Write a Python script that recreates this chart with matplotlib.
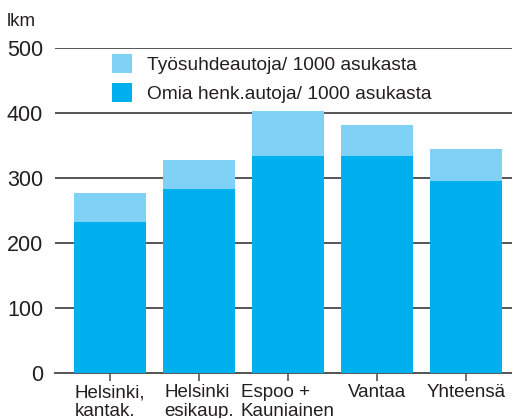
import matplotlib.pyplot as plt
import numpy as np

plt.rcParams['font.family'] = ['Liberation Sans', 'DejaVu Sans']

categories = ['Helsinki,\nkantak.', 'Helsinki\nesikaup.', 'Espoo +\nKauniainen', 'Vantaa', 'Yhteensä']
omia = [233, 283, 333, 333, 296]
tyosuhde = [44, 45, 70, 49, 49]

dark = '#00B0EE'
light = '#7FD2F5'
txt = '#231F20'

fig = plt.figure(figsize=(5.12, 4.18), dpi=100)
ax = fig.add_axes([55 / 512, 44.7 / 418, 457 / 512, 325.6 / 418])

x = np.arange(len(categories))
ax.bar(x, omia, width=0.81, color=dark, label='Omia henk.autoja/ 1000 asukasta', zorder=3)
ax.bar(x, tyosuhde, width=0.81, bottom=omia, color=light,
       label='Työsuhdeautoja/ 1000 asukasta', zorder=3)

ax.set_ylim(0, 500)
ax.set_xlim(-0.62, 4.52)
ax.set_yticks([0, 100, 200, 300, 400, 500])
ax.yaxis.grid(True, color='#555555', linewidth=1.4, zorder=1)
ax.set_axisbelow(True)
for s in ['left', 'right', 'top']:
    ax.spines[s].set_visible(False)
ax.spines['bottom'].set_color('#555555')
ax.spines['bottom'].set_linewidth(1.4)
ax.tick_params(axis='y', length=0, labelsize=15.5, labelcolor=txt, pad=8.5)
ax.tick_params(axis='x', length=6, color='#555555', width=1.2, labelsize=13.5,
               labelcolor=txt, pad=2)
ax.set_xticks(x)
ax.set_xticklabels(categories, linespacing=1.1, multialignment='left', va='top')

fig.text(7 / 512, 1 - 26 / 418, 'lkm', fontsize=13.5, color=txt)

h, l = ax.get_legend_handles_labels()
leg = ax.legend(h[::-1], l[::-1], loc='upper left', bbox_to_anchor=(0.10, 1.015),
                frameon=False, fontsize=13.8, handlelength=1.05, handleheight=1.15,
                labelspacing=0.45, handletextpad=0.75, labelcolor=txt,
                borderaxespad=0.2)

fig.savefig('out.png', dpi=100)
